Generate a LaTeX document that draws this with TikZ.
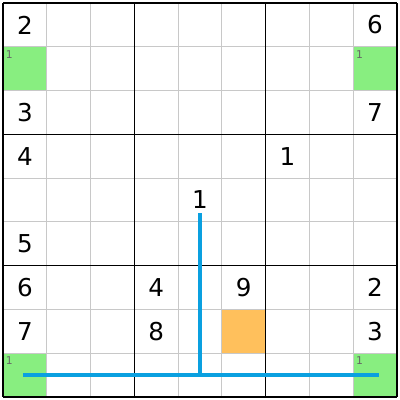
\documentclass[tikz,border=0pt]{standalone}
\usepackage{fontspec}
\setmainfont{DejaVu Sans}
\definecolor{cellgreen}{HTML}{88EE80}
\definecolor{cellorange}{HTML}{FFC05C}
\definecolor{pathblue}{HTML}{0AA0E0}
\definecolor{gridgray}{HTML}{C8C8C8}
\begin{document}
\begin{tikzpicture}[x=1cm, y=-1cm,
digit/.style={font=\fontsize{16}{16}\selectfont, inner sep=0pt},
note/.style={font=\fontsize{7}{7}\selectfont, text=black!60, anchor=north west, inner sep=0pt},
thin grid/.style={draw=gridgray, line width=0.6pt},
box line/.style={draw=black, line width=1pt},
snake/.style={draw=pathblue, line width=2.6pt}]
\useasboundingbox (-0.07,-0.07) rectangle (9.07,9.07);

% shaded cells
\foreach \c/\r in {0/1, 8/1, 0/8, 8/8}
  \fill[cellgreen] (\c,\r) rectangle ++(1,1);
\fill[cellorange] (5,7) rectangle ++(1,1);

% grid
\foreach \i in {1,...,8}{
  \draw[thin grid] (\i,0) -- (\i,9);
  \draw[thin grid] (0,\i) -- (9,\i);
}
\foreach \i in {0,3,6,9}{
  \draw[box line] (\i,0) -- (\i,9);
  \draw[box line] (0,\i) -- (9,\i);
}

% small clues
\node[note] (n1) at (0.06,1.07) {1};
\node[note] (n2) at (8.06,1.07) {1};
\node[note] (n3) at (0.06,8.07) {1};
\node[note] (n4) at (8.06,8.07) {1};

% digits
\node[digit] (a1) at (0.5,0.5) {2};
\node[digit] (a2) at (8.5,0.5) {6};
\node[digit] (a3) at (0.5,2.5) {3};
\node[digit] (a4) at (8.5,2.5) {7};
\node[digit] (a5) at (0.5,3.5) {4};
\node[digit] (a6) at (6.5,3.5) {1};
\node[digit] (a7) at (4.5,4.5) {1};
\node[digit] (a8) at (0.5,5.5) {5};
\node[digit] (a9) at (0.5,6.5) {6};
\node[digit] (a10) at (3.5,6.5) {4};
\node[digit] (a11) at (5.5,6.5) {9};
\node[digit] (a12) at (8.5,6.5) {2};
\node[digit] (a13) at (0.5,7.5) {7};
\node[digit] (a14) at (3.5,7.5) {8};
\node[digit] (a15) at (8.5,7.5) {3};

% line
\coordinate (top) at (4.5,4.8);
\coordinate (mid) at (4.5,8.5);
\coordinate (left) at (0.46,8.5);
\coordinate (right) at (8.6,8.5);
\draw[snake] (left) -- (right);
\draw[snake] (top) -- (mid);
\end{tikzpicture}
\end{document}
